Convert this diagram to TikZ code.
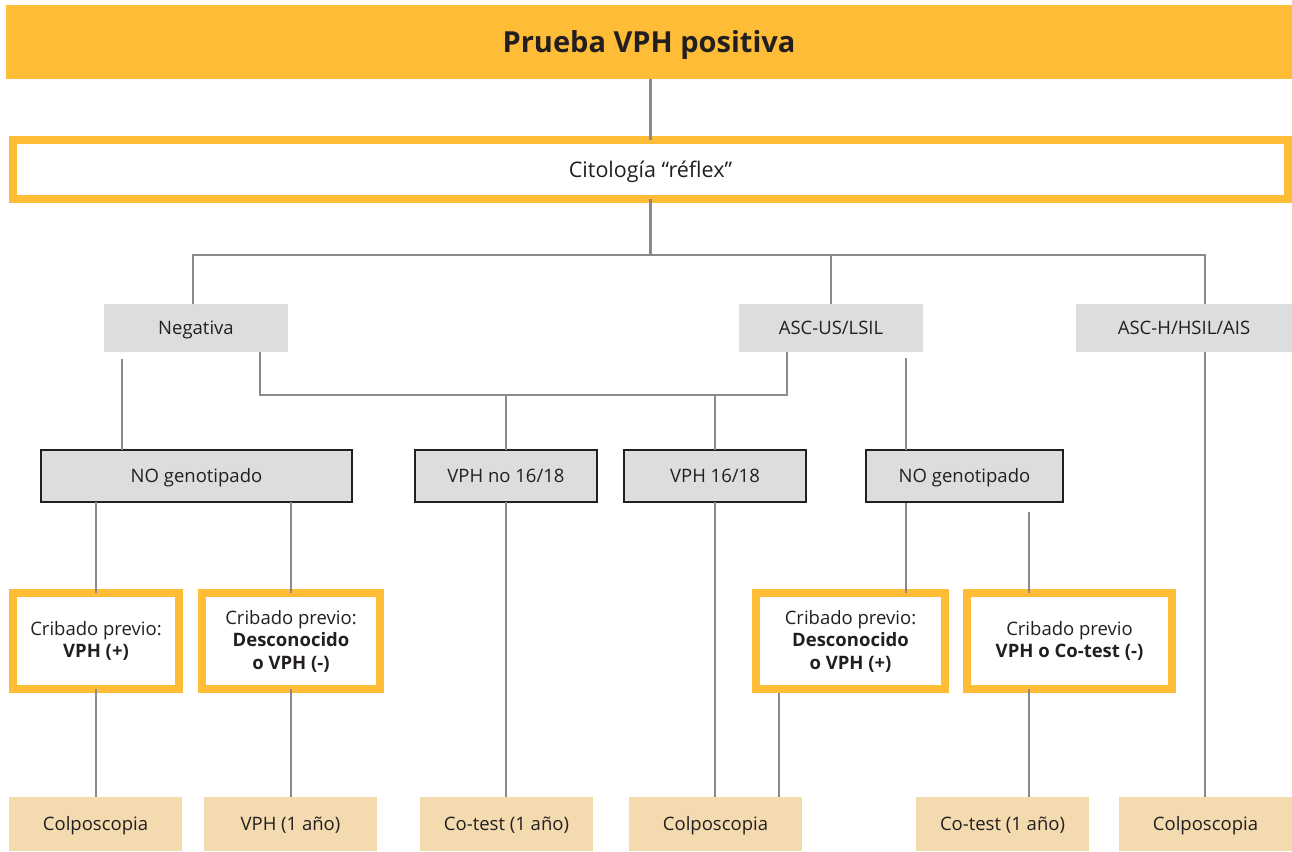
\documentclass[tikz,border=0pt]{standalone}
\usepackage{fontspec}
\setmainfont{Open Sans}
\definecolor{ambar}{HTML}{FEBC37}
\definecolor{grisbox}{HTML}{DCDDDF}
\definecolor{arena}{HTML}{F3DAAF}
\definecolor{linea}{HTML}{8A8A8D}
\definecolor{tinta}{HTML}{231F20}
\tikzset{
  base/.style={inner sep=0pt, outer sep=0pt, align=center, text=tinta, font=\fontsize{18.5}{22.5}\selectfont},
  oneline/.style={text height=#1, text depth=0pt},
  oneline/.default=13.2pt,
  titulo/.style={base, oneline=20.7pt, fill=ambar, font=\fontsize{29}{34}\bfseries\selectfont},
  marco/.style={base, draw=ambar, line width=8pt, fill=white},
  rotulo/.style={base, oneline, fill=grisbox},
  genobox/.style={base, oneline, fill=grisbox, draw=tinta, line width=2.5pt},
  final/.style={base, oneline, fill=arena},
  conector/.style={draw=linea, line width=2.5pt},
}
\begin{document}
\begin{tikzpicture}[x=1pt,y=-1pt]
\useasboundingbox (0,0) rectangle (1292,851);
% --- levels
\node[titulo, minimum width=1286pt, minimum height=74pt] (top) at (649,42) {Prueba VPH positiva};
\node[marco, oneline=15.4pt, minimum width=1275pt, minimum height=59pt, font=\fontsize{21.5}{26}\selectfont] (cito) at (650.5,169.5) {Citología “réflex”};

\node[rotulo, minimum width=184pt, minimum height=48pt] (neg) at (196,328) {Negativa};
\node[rotulo, minimum width=184pt, minimum height=48pt] (ascus) at (831,328) {ASC-US/LSIL};
\node[rotulo, minimum width=216pt, minimum height=48pt] (asch) at (1184,328) {ASC-H/HSIL/AIS};

\node[genobox, minimum width=311pt, minimum height=52pt] (nogL) at (196.5,476) {NO genotipado};
\node[genobox, minimum width=182pt, minimum height=52pt] (vphno) at (506,476) {VPH no 16/18};
\node[genobox, minimum width=182pt, minimum height=52pt] (vph16) at (715,476) {VPH 16/18};
\node[genobox, minimum width=197pt, minimum height=52pt] (nogR) at (964.5,476) {NO genotipado};

\node[marco, minimum width=166pt, minimum height=96pt] (crib1) at (96,641) {Cribado previo:\\\textbf{VPH (+)}};
\node[marco, minimum width=178pt, minimum height=96pt] (crib2) at (291,641) {Cribado previo:\\\textbf{Desconocido}\\\textbf{o VPH (-)}};
\node[marco, minimum width=189pt, minimum height=96pt] (crib3) at (850.5,641) {Cribado previo:\\\textbf{Desconocido}\\\textbf{o VPH (+)}};
\node[marco, minimum width=205pt, minimum height=96pt] (crib4) at (1069.5,641) {Cribado previo\\\textbf{VPH o Co-test (-)}};

\node[final, minimum width=173pt, minimum height=54pt] (f1) at (95.5,824) {Colposcopia};
\node[final, minimum width=173pt, minimum height=54pt] (f2) at (290.5,824) {VPH (1 año)};
\node[final, minimum width=173pt, minimum height=54pt] (f3) at (506.5,824) {Co-test (1 año)};
\node[final, minimum width=173pt, minimum height=54pt] (f4) at (715.5,824) {Colposcopia};
\node[final, minimum width=173pt, minimum height=54pt] (f5) at (1002.5,824) {Co-test (1 año)};
\node[final, minimum width=173pt, minimum height=54pt] (f6) at (1205.5,824) {Colposcopia};

% --- junction points of the branching lines
\coordinate (bus) at (0,255);
\coordinate (brk) at (0,395);
\coordinate (negU) at (193,304);
\coordinate (negR) at (260,352);
\coordinate (ascL) at (787,352);
\coordinate (negD) at (122,359);
\coordinate (ascD) at (906,358);
\coordinate (hD) at (1205,352);
\coordinate (gR1) at (906,503);
\coordinate (gR2) at (1029,512);
\coordinate (c3D) at (779,693);

% --- connectors
\draw[conector] (cito.north |- top.south) -- (cito.north);
\draw[conector] (cito.south) -- (cito.south |- bus);
\draw[conector] (negU) -- (negU |- bus) -- (hD |- bus) -- (hD |- asch.north);
\draw[conector] (ascus.north |- bus) -- (ascus.north);
\draw[conector] (hD) -- (hD |- f6.north);

\draw[conector] (negD) -- (negD |- nogL.north);
\draw[conector] (negR) -- (negR |- brk) -- (ascL |- brk) -- (ascL);
\draw[conector] (vphno.north |- brk) -- (vphno.north);
\draw[conector] (vph16.north |- brk) -- (vph16.north);
\draw[conector] (ascD) -- (ascD |- nogR.north);

\draw[conector] (crib1.north |- nogL.south) -- (crib1.north);
\draw[conector] (crib2.north |- nogL.south) -- (crib2.north);
\draw[conector] (vphno.south) -- (vphno.south |- f3.north);
\draw[conector] (vph16.south) -- (vph16.south |- f4.north);
\draw[conector] (gR1) -- (gR1 |- crib3.north);
\draw[conector] (gR2) -- (gR2 |- crib4.north);

\draw[conector] (crib1.south) -- (crib1.south |- f1.north);
\draw[conector] (crib2.south) -- (crib2.south |- f2.north);
\draw[conector] (c3D) -- (c3D |- f4.north);
\draw[conector] (gR2 |- crib4.south) -- (gR2 |- f5.north);
\end{tikzpicture}
\end{document}
